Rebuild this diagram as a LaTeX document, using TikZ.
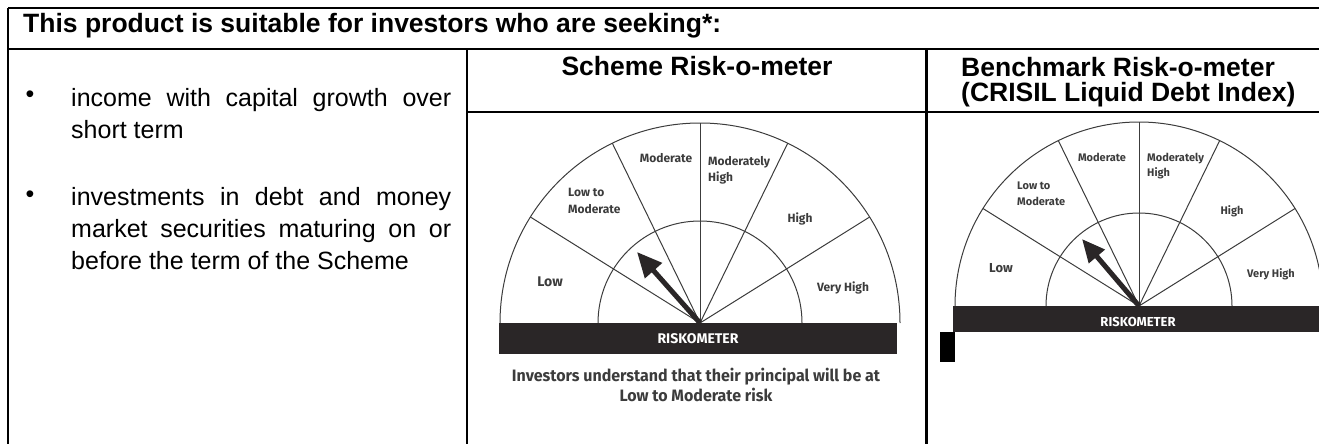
\documentclass[tikz,border=0pt]{standalone}
\usepackage{fontspec}
\setmainfont{Liberation Sans}
\newfontfamily\meterfont{Fira Sans}
\usetikzlibrary{arrows.meta}
\definecolor{metergray}{HTML}{3C3C3C}
\definecolor{barcol}{HTML}{2A2627}
\tikzset{
  tableline/.style={line width=2.2pt, black},
  thinrule/.style={line width=1.4pt, black},
  meterline/.style={line width=1pt, metergray},
  mlabel/.style={font=\meterfont\bfseries\fontsize{12}{16}\selectfont, text=metergray, inner sep=0pt},
  mlabelb/.style={font=\meterfont\bfseries\fontsize{11}{15}\selectfont, text=metergray, inner sep=0pt},
  needle/.style={line width=5pt, barcol, -{Triangle[length=25pt,width=22pt]}},
  bartext/.style={font=\meterfont\bfseries\fontsize{14}{16}\selectfont, text=white, inner sep=0pt},
  titletext/.style={font=\bfseries\fontsize{26.5}{26.5}\selectfont, inner sep=0pt},
  bodytext/.style={font=\fontsize{25}{32}\selectfont, inner sep=0pt},
}
\begin{document}
\begin{tikzpicture}[x=1pt,y=-1pt]
\useasboundingbox (0,0) rectangle (1319,444);
% table
\coordinate (tl) at (8,8);
\coordinate (tr) at (1325,8);
\coordinate (bl) at (8,450);
\coordinate (hl) at (8,49);
\coordinate (hr) at (1325,49);
\coordinate (c1t) at (467,49);
\coordinate (c1b) at (467,450);
\coordinate (c2t) at (926,49);
\coordinate (c2b) at (926,450);
\coordinate (sl) at (467,112);
\coordinate (sr) at (1325,112);
\draw[tableline] (tl) -- (tr);
\draw[tableline] (tl) -- (bl);
\draw[tableline] (hl) -- (hr);
\draw[tableline] (c1t) -- (c1b);
\draw[tableline, line width=3pt] (c2t) -- (c2b);
\draw[thinrule] (sl) -- (sr);
\coordinate (s1a) at (467,112); \coordinate (s1b) at (483,112);
\coordinate (s2a) at (909,112); \coordinate (s2b) at (940,112);
\draw[tableline] (s1a) -- (s1b);
\draw[tableline] (s2a) -- (s2b);

% header
\node[titletext, anchor=base west] (head) at (23,33) {This product is suitable for investors who are seeking*:};

% bullets
\node[bodytext, anchor=center] (b1) at (30,97) {•};
\node[bodytext, anchor=base west] (b1l1) at (71,106) {\makebox[380pt][s]{income with capital growth over}};
\node[bodytext, anchor=base west] (b1l2) at (71,138) {short term};
\node[bodytext, anchor=center] (b2) at (30,197) {•};
\node[bodytext, anchor=base west] (b2l1) at (71,205) {\makebox[380pt][s]{investments in debt and money}};
\node[bodytext, anchor=base west] (b2l2) at (71,237) {\makebox[380pt][s]{market securities maturing on or}};
\node[bodytext, anchor=base west] (b2l3) at (71,269) {before the term of the Scheme};

% titles
\node[titletext, anchor=base] (t1) at (697,75) {Scheme Risk-o-meter};
\node[titletext, anchor=base west] (t2a) at (961,76) {Benchmark Risk-o-meter};
\node[titletext, anchor=base west] (t2b) at (961,101) {(CRISIL Liquid Debt Index)};

% ---------- meter 1 ----------
\begin{scope}[shift={(700,323)}]
  \coordinate (m1c) at (0,0);
  \draw[meterline] (-200,0) arc[start angle=180, end angle=0, radius=200pt];
  \draw[meterline] (-102,0) arc[start angle=180, end angle=0, radius=102pt];
  \foreach \a in {32,64,90,116,148} {
    \draw[meterline] (m1c) -- ({200*cos(\a)},{-200*sin(\a)});
  }
\end{scope}
\coordinate (m1tip) at (637,252);
\draw[needle] (m1c) -- (m1tip);
\fill[barcol] (499,323) rectangle (897,354);
\node[bartext] (m1bar) at (698,338.5) {RISKOMETER};
\node[mlabel, font=\meterfont\bfseries\fontsize{14}{16}\selectfont] (m1low) at (550,282) {Low};
\node[mlabel, anchor=west, align=left, font=\meterfont\bfseries\fontsize{12}{17}\selectfont] (m1ltm) at (568,200.5) {Low to\\Moderate};
\node[mlabel] (m1mod) at (666,158) {Moderate};
\node[mlabel, anchor=west, align=left, font=\meterfont\bfseries\fontsize{12}{16}\selectfont] (m1mh) at (708,170) {Moderately\\High};
\node[mlabel] (m1high) at (800,219) {High};
\node[mlabel] (m1vh) at (843,288) {Very High};
\node[font=\meterfont\bfseries\fontsize{16.5}{20}\selectfont, text=metergray, align=center, inner sep=0pt] (m1cap) at (696,385) {\scalebox{0.97}[1]{Investors understand that their principal will be at}\\\scalebox{0.97}[1]{Low to Moderate risk}};

% ---------- meter 2 ----------
\begin{scope}[shift={(1139,306)}]
  \coordinate (m2c) at (0,0);
  \draw[meterline] (-184,0) arc[start angle=180, end angle=0, radius=184pt];
  \draw[meterline] (-93,0) arc[start angle=180, end angle=0, radius=93pt];
  \foreach \a in {32,64,90,116,148} {
    \draw[meterline] (m2c) -- ({184*cos(\a)},{-184*sin(\a)});
  }
\end{scope}
\coordinate (m2tip) at (1082,239);
\draw[needle, -{Triangle[length=23pt,width=20pt]}] (m2c) -- (m2tip);
\fill[barcol] (953,306) rectangle (1325,332);
\node[bartext, font=\meterfont\bfseries\fontsize{13}{15}\selectfont] (m2bar) at (1138,322) {RISKOMETER};
\node[mlabelb, font=\meterfont\bfseries\fontsize{13}{15}\selectfont] (m2low) at (1001,268) {Low};
\node[mlabelb, anchor=west, align=left, font=\meterfont\bfseries\fontsize{11}{16}\selectfont] (m2ltm) at (1017,194) {Low to\\Moderate};
\node[mlabelb] (m2mod) at (1102,157) {Moderate};
\node[mlabelb, anchor=west, align=left, font=\meterfont\bfseries\fontsize{11}{15}\selectfont] (m2mh) at (1147,166.5) {Moderately\\High};
\node[mlabelb] (m2high) at (1232,211) {High};
\node[mlabelb] (m2vh) at (1271,274) {Very High};
\fill[black] (940,332) rectangle (955,362);
\end{tikzpicture}
\end{document}
